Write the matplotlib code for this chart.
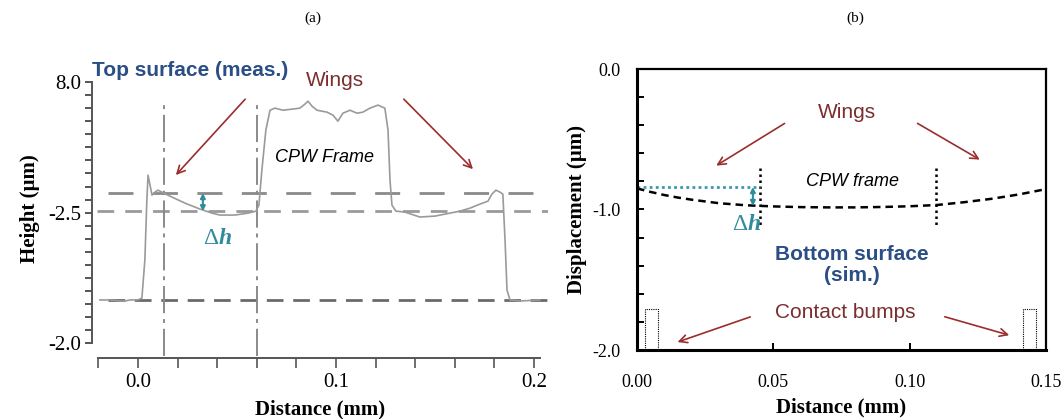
import numpy as np
import matplotlib.pyplot as plt

# ---- (a) measured profile (x in mm, height in axis tick units) ----
dist_a = [-0.0192, -0.0141, -0.0091, -0.0066, -0.0040, 0.0, 0.0020, 0.0035, 0.0045, 0.0051,
          0.0061, 0.0071, 0.0086, 0.0101, 0.0162, 0.0237, 0.0313, 0.0374, 0.0414, 0.0490,
          0.0556, 0.0596, 0.0611, 0.0626, 0.0646, 0.0667, 0.0692, 0.0732, 0.0778, 0.0818,
          0.0843, 0.0859, 0.0879, 0.0904, 0.0955, 0.0985, 0.1010, 0.1035, 0.1071, 0.1106,
          0.1136, 0.1172, 0.1212, 0.1247, 0.1263, 0.1273, 0.1283, 0.1303, 0.1348, 0.1424,
          0.1500, 0.1576, 0.1626, 0.1677, 0.1727, 0.1768, 0.1788, 0.1808, 0.1828, 0.1843,
          0.1854, 0.1864, 0.1879, 0.1929, 0.2030]
height_a = [3.30, 3.30, 3.22, 3.22, 3.30, 3.30, 3.45, 6.36, 10.96, 12.87,
            12.11, 11.34, 11.57, 11.72, 11.26, 10.73, 10.27, 9.96, 9.81, 9.81,
            9.96, 10.11, 10.57, 13.26, 16.32, 17.85, 18.01, 17.85, 17.93, 18.01,
            18.31, 18.54, 18.16, 17.85, 17.70, 17.47, 17.01, 17.62, 17.85, 17.62,
            17.70, 18.01, 18.24, 18.01, 16.32, 12.49, 10.57, 10.11, 10.04, 9.66,
            9.73, 9.96, 10.11, 10.34, 10.65, 10.88, 11.42, 11.72, 11.57, 11.42,
            7.89, 4.06, 3.30, 3.22, 3.30]
ref_top, ref_mid, ref_base = 11.5, 10.1, 3.3
vlines_a = [0.0131, 0.0601]
yticks_a = [0, 10, 20]
ylabels_a = ['-2.0', '-2.5', '8.0']
xticks_a = [-0.02, 0.0, 0.02, 0.04, 0.06, 0.08, 0.1, 0.12, 0.14, 0.16, 0.18, 0.2]

# ---- (b) simulated bottom surface ----
dist_b = [0.0, 0.005, 0.01, 0.015, 0.02, 0.03, 0.04, 0.05, 0.06, 0.07, 0.08, 0.09,
          0.10, 0.11, 0.12, 0.13, 0.14, 0.15]
disp_b = [-0.850, -0.875, -0.897, -0.915, -0.930, -0.955, -0.970, -0.978, -0.983, -0.985,
          -0.985, -0.982, -0.977, -0.968, -0.948, -0.924, -0.893, -0.855]
frame_x = [0.0451, 0.1097]
bumps = [(0.0029, 0.0077), (0.1416, 0.1463)]
bump_top = -1.71
dh_level = -0.84

serif = 'Liberation Serif'
sans = 'Liberation Sans'
teal = '#2f8c9c'
blue = '#2a4e85'
brown = '#7b2e2e'
arrow_c = '#9b2d2d'


def delta_h(axis, x, y):
    axis.text(x, y, '\u0394', family=serif, fontsize=17, color=teal,
              ha='right', va='center')
    axis.text(x, y, 'h', family=serif, fontsize=17, color=teal, fontweight='bold',
              style='italic', ha='left', va='center')


fig = plt.figure(figsize=(10.64, 4.19), dpi=100)

# ================= panel (a) =================
ax = fig.add_axes([92 / 1064, 1 - 358 / 419, 456 / 1064, 298 / 419])
ax.set_xlim(-0.0232, 0.2071)
ax.set_ylim(-1.15, 21.7)
for s in ['top', 'right']:
    ax.spines[s].set_visible(False)
ax.spines['left'].set_bounds(0, 20)
ax.spines['bottom'].set_bounds(-0.0202, 0.203)
for s in ['left', 'bottom']:
    ax.spines[s].set_color('#555555')
    ax.spines[s].set_linewidth(1.4)

ax.plot(dist_a, height_a, color='#9a9a9a', lw=1.2, zorder=3)
ax.axhline(ref_top, xmin=0.035, color='#8a8a8a', lw=2, dashes=(9, 7), zorder=2)
ax.axhline(ref_mid, xmin=0.01, color='#9a9a9a', lw=2, dashes=(6, 4), zorder=2)
ax.axhline(ref_base, xmin=0.035, color='#6a6a6a', lw=2, dashes=(6, 3.5), zorder=2)
for xv in vlines_a:
    ax.plot([xv, xv], [-1.0, 18.6], color='#8a8a8a', lw=1.4, dashes=(14, 3, 2, 3))

ax.set_yticks(range(0, 21))
ax.set_yticklabels([ylabels_a[yticks_a.index(v)] if v in yticks_a else '' for v in range(0, 21)])
ax.set_xticks(xticks_a)
ax.set_xticklabels(['0.0' if abs(v) < 1e-9 else '0.1' if abs(v - 0.1) < 1e-9
                    else '0.2' if abs(v - 0.2) < 1e-9 else '' for v in xticks_a])
ax.tick_params(axis='y', direction='out', length=5, width=1.4, color='#555555', pad=3,
               labelsize=15)
ax.tick_params(axis='x', direction='out', length=7, width=1.2, color='#555555', pad=4,
               labelsize=15)
for lab in ax.get_xticklabels() + ax.get_yticklabels():
    lab.set_family(serif)
ax.set_xlabel('Distance (mm)', family=serif, fontweight='bold', fontsize=15, labelpad=5)
ax.set_ylabel('Height (µm)', family=serif, fontweight='bold', fontsize=15, labelpad=6)

ax.text(0.0263, 20.9, 'Top surface (meas.)', family=sans, fontweight='bold', fontsize=15,
        color=blue, ha='center', va='center')
ax.text(0.0995, 20.15, 'Wings', family=sans, fontsize=15, color=brown,
        ha='center', va='center')
ax.annotate('', xy=(0.0182, 12.72), xytext=(0.0551, 18.85),
            arrowprops=dict(arrowstyle='->', color=arrow_c, lw=1.2, mutation_scale=14))
ax.annotate('', xy=(0.1702, 13.18), xytext=(0.1333, 18.85),
            arrowprops=dict(arrowstyle='->', color=arrow_c, lw=1.2, mutation_scale=14))
ax.text(0.0944, 14.25, 'CPW Frame', family=sans, style='italic', fontsize=13,
        ha='center', va='center')
ax.annotate('', xy=(0.0328, ref_mid), xytext=(0.0328, ref_top),
            arrowprops=dict(arrowstyle='<|-|>', color=teal, lw=1.5, mutation_scale=7,
                            shrinkA=0, shrinkB=0))
delta_h(ax, 0.0405, 8.0)

fig.text(313 / 1064, 1 - 18 / 419, '(a)', family=serif, fontsize=11, ha='center', va='center')

# ================= panel (b) =================
bx = fig.add_axes([637 / 1064, 1 - 350 / 419, 409 / 1064, 281 / 419])
bx.set_xlim(0, 0.15)
bx.set_ylim(-2.0, 0.0)
for s in ['left', 'bottom']:
    bx.spines[s].set_linewidth(2.2)
for s in ['top', 'right']:
    bx.spines[s].set_linewidth(1.6)

bx.plot(dist_b, disp_b, color='black', lw=1.8, dashes=(3, 2), zorder=3)
for xv in frame_x:
    bx.plot([xv, xv], [-0.705, -1.13], color='black', lw=1.8, dashes=(1, 1.4))
bx.plot([0, frame_x[0]], [dh_level, dh_level], color='#3a9aaa', lw=2, dashes=(1, 1.2))
for x0, x1 in bumps:
    bx.plot([x0, x0, x1, x1], [-2.0, bump_top, bump_top, -2.0], color='black', lw=0.8,
            dashes=(1, 1))
bx.annotate('', xy=(0.0425, -0.975), xytext=(0.0425, dh_level),
            arrowprops=dict(arrowstyle='<|-|>', color=teal, lw=1.5, mutation_scale=7,
                            shrinkA=0, shrinkB=0))
delta_h(bx, 0.0405, -1.11)

bx.text(0.0789, -0.804, 'CPW frame', family=sans, style='italic', fontsize=13,
        ha='center', va='center')
bx.text(0.0770, -0.313, 'Wings', family=sans, fontsize=15, color=brown,
        ha='center', va='center')
bx.annotate('', xy=(0.0282, -0.698), xytext=(0.0550, -0.377),
            arrowprops=dict(arrowstyle='->', color=arrow_c, lw=1.2, mutation_scale=14))
bx.annotate('', xy=(0.1266, -0.655), xytext=(0.1020, -0.377),
            arrowprops=dict(arrowstyle='->', color=arrow_c, lw=1.2, mutation_scale=14))
bx.text(0.0789, -1.395, 'Bottom surface\n(sim.)', family=sans, fontweight='bold',
        fontsize=15, color=blue, ha='center', va='center', linespacing=1.15)
bx.text(0.0763, -1.73, 'Contact bumps', family=sans, fontsize=15, color=brown,
        ha='center', va='center')
bx.annotate('', xy=(0.0139, -1.95), xytext=(0.0425, -1.758),
            arrowprops=dict(arrowstyle='->', color=arrow_c, lw=1.2, mutation_scale=14))
bx.annotate('', xy=(0.1375, -1.90), xytext=(0.1119, -1.758),
            arrowprops=dict(arrowstyle='->', color=arrow_c, lw=1.2, mutation_scale=14))

bx.set_yticks([-2.0, -1.0, 0.0])
bx.set_yticklabels(['-2.0', '-1.0', '0.0'])
bx.set_yticks(np.arange(-2.0, 0.01, 0.2), minor=True)
bx.set_xticks([0.0, 0.05, 0.10, 0.15])
bx.set_xticklabels(['0.00', '0.05', '0.10', '0.15'])
bx.tick_params(axis='both', which='both', direction='in', length=5, width=1.4,
               labelsize=13)
bx.tick_params(axis='y', which='major', pad=12)
bx.tick_params(axis='x', which='major', pad=17)
for lab in bx.get_xticklabels() + bx.get_yticklabels():
    lab.set_family(serif)
bx.set_xlabel('Distance (mm)', family=serif, fontweight='bold', fontsize=15, labelpad=5)
bx.set_ylabel('Displacement (µm)', family=serif, fontweight='bold', fontsize=15,
              labelpad=4)

fig.text(855 / 1064, 1 - 18 / 419, '(b)', family=serif, fontsize=11, ha='center', va='center')

fig.savefig('out.png', dpi=100)
